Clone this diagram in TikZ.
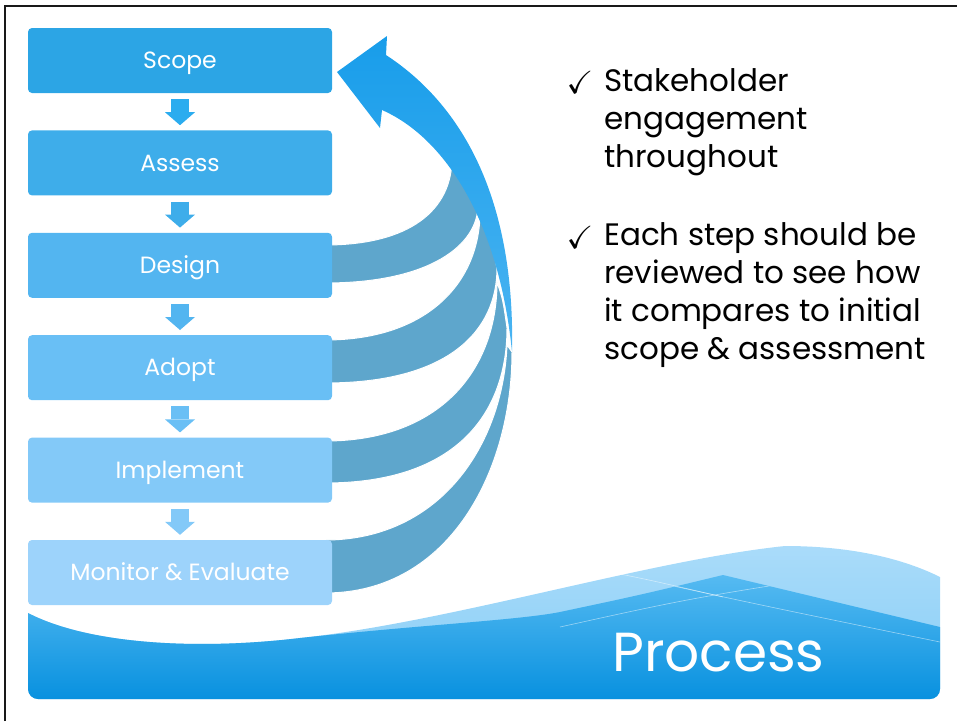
\documentclass[tikz,border=0pt]{standalone}
\usepackage{fontspec}
\setmainfont{Poppins}
\usepackage{amssymb}
\usepackage{tikz}
\usetikzlibrary{positioning,arrows.meta}

\definecolor{scopeblue}{HTML}{2CA5E5}
\definecolor{assessblue}{HTML}{3EADEA}
\definecolor{designblue}{HTML}{53B5F0}
\definecolor{adoptblue}{HTML}{69BFF5}
\definecolor{implblue}{HTML}{83C9F8}
\definecolor{monblue}{HTML}{9DD3FB}
\definecolor{firstdown}{HTML}{2BACEF}
\definecolor{ribbongray}{HTML}{5EA6CC}
\definecolor{looptop}{HTML}{189DEA}
\definecolor{loopbot}{HTML}{4AB4F2}
\definecolor{wavelight}{HTML}{ABDCFA}
\definecolor{wavemid}{HTML}{86CDF6}
\definecolor{bandtop}{HTML}{6CC6F7}
\definecolor{bandbot}{HTML}{0891DF}

\tikzset{
  stepbox/.style={rectangle, rounded corners=4pt, minimum width=304pt,
    minimum height=65pt, inner sep=0pt, text=white,
    text height=16.5pt, text depth=0pt,
    font=\fontsize{23.5}{26}\selectfont},
  stepdown/.style={line width=18pt,
    -{Triangle[width=30pt,length=13pt,line width=0pt]},
    shorten <=6pt, shorten >=5pt},
  ribbon/.style={fill=ribbongray, draw=white, line width=1pt},
  note/.style={anchor=north west, inner sep=0pt, align=left,
    font=\fontsize{31}{38}\selectfont},
  tick/.style={inner sep=0pt, font=\fontsize{32}{32}\selectfont},
}

\begin{document}
\begin{tikzpicture}[x=1pt, y=-1pt]
    \useasboundingbox (0,0) rectangle (957,721);

    % frame edges
    \draw[line width=2.5pt, black!90] (5,721) -- (5,6) -- (957,6);

    % wave band at the bottom
    \begin{scope}
      \clip (28,613) .. controls (90,645) and (200,650) .. (300,638)
        .. controls (450,622) and (650,560) .. (785,546)
        .. controls (860,546) and (910,562) .. (940,577)
        -- (940,710) -- (28,710) -- cycle;
      \shade[top color=wavelight, bottom color=wavemid, rounded corners=10pt]
        (28,540) rectangle (940,699);
    \end{scope}
    \begin{scope}
      \clip (28,613) .. controls (90,645) and (200,650) .. (300,638)
        .. controls (420,625) and (520,620) .. (560,612)
        .. controls (640,595) .. (723,575)
        -- (940,627) -- (940,710) -- (28,710) -- cycle;
      \shade[top color=bandtop, bottom color=bandbot, rounded corners=10pt]
        (28,540) rectangle (940,699);
      \draw[white, opacity=.5, line width=.6pt]
        (560,627) .. controls (700,596) .. (940,560);
      \draw[white, opacity=.5, line width=.6pt]
        (600,570) .. controls (760,605) .. (940,642);
    \end{scope}
    \draw[white, opacity=.5, line width=.6pt]
      (600,570) .. controls (650,580) .. (723,597);

    % ribbons back into the loop
    \draw[ribbon] (325,245) .. controls (410,245) and (452,210) .. (452,158)
      .. controls (465,175) .. (478,205)
      .. controls (478,245) and (430,283) .. (325,283) -- cycle;
    \draw[ribbon] (325,340) .. controls (430,340) and (480,280) .. (480,212)
      .. controls (490,235) .. (497,268)
      .. controls (497,330) and (450,383) .. (325,383) -- cycle;
    \draw[ribbon] (325,441) .. controls (440,441) and (497,370) .. (497,282)
      .. controls (503,300) .. (507,328)
      .. controls (507,410) and (460,483) .. (325,483) -- cycle;

    % loop arrow back to the scope
    \shade[top color=looptop, bottom color=loopbot]
      (512,352) .. controls (515,210) and (470,110) .. (386,55)
      -- (387,36) -- (337,72) -- (380,128) -- (382,110)
      .. controls (450,140) and (500,230) .. (512,352) -- cycle;

    \draw[ribbon] (325,540) .. controls (440,540) and (503,445) .. (507,345)
      .. controls (510,348) .. (512,352)
      .. controls (512,470) and (450,593) .. (325,593) -- cycle;

    % process steps
    \node[stepbox, fill=scopeblue] (scope) at (180,60.5) {Scope};
    \node[stepbox, fill=assessblue, below=37pt of scope] (assess) {Assess};
    \node[stepbox, fill=designblue, below=37pt of assess] (design) {Design};
    \node[stepbox, fill=adoptblue, below=37pt of design] (adopt) {Adopt};
    \node[stepbox, fill=implblue, below=37pt of adopt] (implement) {Implement};
    \node[stepbox, fill=monblue, below=37pt of implement] (monitor) {Monitor \& Evaluate};

    % down arrows between steps
    \draw[stepdown, color=firstdown] (scope) -- (assess);
    \draw[stepdown, color=assessblue] (assess) -- (design);
    \draw[stepdown, color=designblue] (design) -- (adopt);
    \draw[stepdown, color=adoptblue] (adopt) -- (implement);
    \draw[stepdown, color=implblue] (implement) -- (monitor);

    % notes on the right
    \node[tick] (chk1) at (580,82) {$\checkmark$};
    \node[note] (engage) at (604,68) {Stakeholder\\engagement\\throughout};
    \node[tick] (chk2) at (580,237) {$\checkmark$};
    \node[note] (review) at (604,222) {Each step should be\\reviewed to see how\\it compares to initial\\scope \& assessment};

    % title
    \node[anchor=base west, inner sep=0pt, text=white,
      font=\fontsize{55}{58}\selectfont] (title) at (612,671) {Process};
\end{tikzpicture}
\end{document}
